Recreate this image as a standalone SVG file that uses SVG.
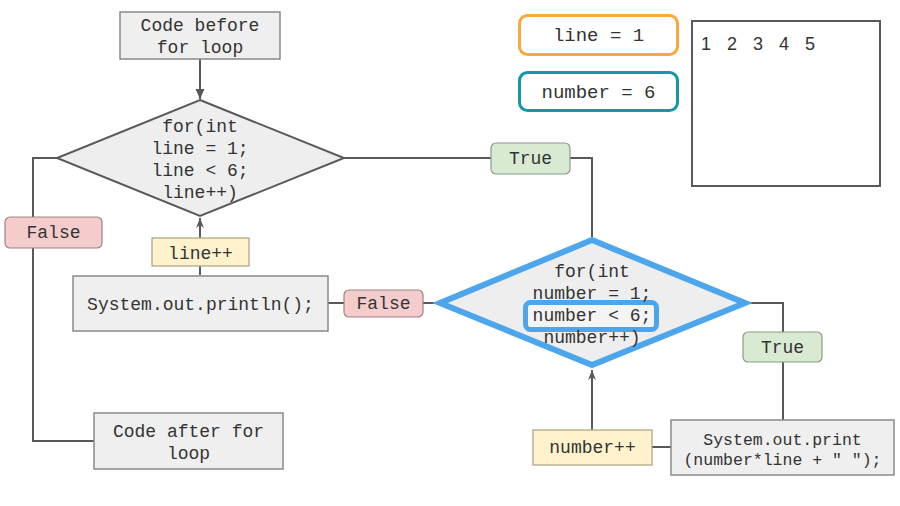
<svg xmlns="http://www.w3.org/2000/svg" width="900" height="506" viewBox="0 0 900 506">
<defs>
<marker id="arrFill" viewBox="0 0 10 12" refX="10" refY="6" markerWidth="10" markerHeight="12" markerUnits="userSpaceOnUse" orient="auto">
<path d="M0,1.5 L10,6 L0,10.5 Z" fill="#595959"/>
</marker>
<marker id="arrStealth" viewBox="0 0 10 8" refX="10" refY="4" markerWidth="10" markerHeight="8" markerUnits="userSpaceOnUse" orient="auto">
<path d="M0,0 L10,4 L0,8 L3,4 Z" fill="#595959"/>
</marker>
</defs>
<style>
.t{font-family:"Liberation Mono","Courier New",monospace;font-size:18px;fill:#333;text-anchor:middle}
.box{fill:#efefef;stroke:#8a8a8a;stroke-width:1.5}
.false{fill:#f4cccc;stroke:#a08080;stroke-width:1.2}
.true{fill:#d9ead3;stroke:#8a9a86;stroke-width:1.2}
.inc{fill:#fff2cc;stroke:#a8a080;stroke-width:1.2}
.conn{fill:none;stroke:#595959;stroke-width:2}
</style>
<rect width="900" height="506" fill="#fff"/>
<g id="connectors">
<path class="conn" d="M200,59 L200,99" marker-end="url(#arrFill)"/>
<path class="conn" d="M57,158 L33,158 L33,217"/>
<path class="conn" d="M33,248 L33,441 L94,441"/>
<path class="conn" d="M344,158 L491,158"/>
<path class="conn" d="M570,158 L592,158 L592,237"/>
<path class="conn" d="M200,275 L200,266"/>
<path class="conn" d="M200,238 L200,218" marker-end="url(#arrStealth)"/>
<path class="conn" d="M437,303 L423,303"/>
<path class="conn" d="M344,303 L328,303"/>
<path class="conn" d="M748,303 L783,303 L783,332"/>
<path class="conn" d="M783,362 L783,420"/>
<path class="conn" d="M652,447 L671,447"/>
<path class="conn" d="M592,430 L592,370" marker-end="url(#arrStealth)"/>
</g>
<g id="code-before">
<rect class="box" x="120" y="12" width="160" height="47"/>
<text class="t" x="200" y="31">Code before</text>
<text class="t" x="200" y="53">for loop</text>
</g>
<g id="outer-for">
<polygon points="200,100 344,158 200,216 57,158" fill="#eeeeee" stroke="#595959" stroke-width="2"/>
<text class="t" x="200" y="132">for(int</text>
<text class="t" x="200" y="154">line = 1;</text>
<text class="t" x="200" y="176">line &lt; 6;</text>
<text class="t" x="200" y="198">line++)</text>
</g>
<g id="false-outer">
<rect class="false" x="5" y="217" width="97" height="31" rx="5"/>
<text class="t" x="53.5" y="238">False</text>
</g>
<g id="line-inc">
<rect class="inc" x="152" y="238" width="97" height="28"/>
<text class="t" x="200.5" y="259">line++</text>
</g>
<g id="println">
<rect class="box" x="73" y="276" width="255" height="55"/>
<text class="t" x="200.5" y="310">System.out.println();</text>
</g>
<g id="false-inner">
<rect class="false" x="344" y="290" width="79" height="27" rx="5"/>
<text class="t" x="383.5" y="309">False</text>
</g>
<g id="code-after">
<rect class="box" x="94" y="413" width="189" height="56"/>
<text class="t" x="188.5" y="437">Code after for</text>
<text class="t" x="188.5" y="459">loop</text>
</g>
<g id="true-outer">
<rect class="true" x="491" y="143" width="79" height="31" rx="5"/>
<text class="t" x="530.5" y="164">True</text>
</g>
<g id="inner-for">
<polygon points="592,240 745,303 592,365 440,303" fill="#eeeeee" stroke="#4da6ec" stroke-width="6" stroke-linejoin="miter"/>
<rect x="525.5" y="302.5" width="131" height="27" rx="5" fill="#f4f4f4" stroke="#4da6ec" stroke-width="5"/>
<text class="t" x="592" y="277">for(int</text>
<text class="t" x="592" y="299">number = 1;</text>
<text class="t" x="592" y="321">number &lt; 6;</text>
<text class="t" x="592" y="343">number++)</text>
</g>
<g id="true-inner">
<rect class="true" x="743" y="332" width="79" height="30" rx="5"/>
<text class="t" x="782.5" y="353">True</text>
</g>
<g id="number-inc">
<rect class="inc" x="533" y="430" width="119" height="35"/>
<text class="t" x="592.5" y="453">number++</text>
</g>
<g id="print">
<rect class="box" x="671" y="420" width="223" height="55"/>
<text class="t" x="782.5" y="444.5" style="font-size:16.5px">System.out.print</text>
<text class="t" x="782.5" y="464.5" style="font-size:16.5px">(number*line + " ");</text>
</g>
<g id="var-line">
<rect x="519.5" y="15.5" width="158" height="39" rx="8" fill="#fff" stroke="#f9a93c" stroke-width="3"/>
<text class="t" x="598.5" y="41" style="font-size:19px">line = 1</text>
</g>
<g id="var-number">
<rect x="519.5" y="72.5" width="158" height="38" rx="8" fill="#fff" stroke="#1497a6" stroke-width="3"/>
<text class="t" x="598.5" y="97.5" style="font-size:19px">number = 6</text>
</g>
<g id="output">
<rect x="692" y="21" width="188" height="165" fill="#fff" stroke="#595959" stroke-width="2"/>
<text x="701" y="50" style="font-family:'Liberation Sans',Arial,sans-serif;font-size:18px;fill:#333;word-spacing:11px">1 2 3 4 5</text>
</g>
</svg>
